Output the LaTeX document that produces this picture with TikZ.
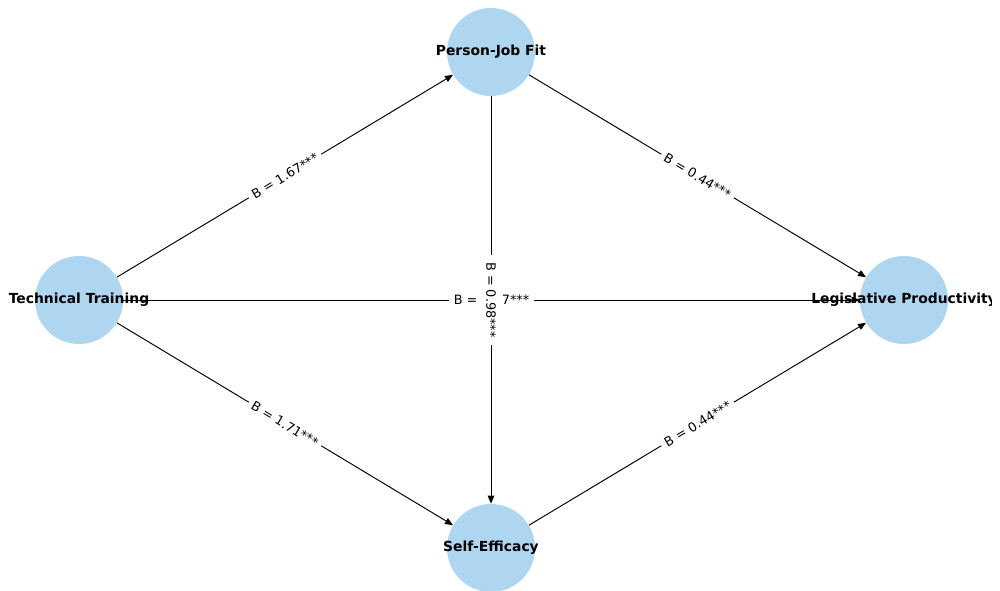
\documentclass[tikz,border=0pt]{standalone}
\usepackage{fontspec}
\setmainfont{DejaVu Sans}
\usetikzlibrary{positioning}
\usetikzlibrary{arrows.meta}
\definecolor{nodeblue}{RGB}{174,214,241}
\tikzset{>={Triangle[length=1.6mm,width=1.3mm]}}
\tikzstyle{vertex} = [circle, fill=nodeblue, draw=none, minimum size=1.76cm, inner sep=0pt]
\tikzstyle{varname} = [font=\fontsize{7.9}{9}\selectfont\bfseries, inner sep=0pt]
\tikzstyle{coef} = [fill=white, font=\fontsize{7.3}{9}\selectfont, inner sep=2.5pt]
\tikzstyle{link} = [->, draw=black, line width=0.55pt]

\begin{document}
\begin{tikzpicture}[x=0.02cm, y=-0.02cm]
\useasboundingbox (0, 0) rectangle (1000, 591);
\clip (0, 0) rectangle (991, 591);
\node [vertex] (TT) at (79, 300) {};
\node [vertex] (PJ) at (491, 52) {};
\node [vertex] (SE) at (491, 548) {};
\node [vertex] (LP) at (904, 300) {};

\draw [link] (TT) to node [coef, sloped] {B = 1.67***} (PJ);
\draw [link] (TT) to node [coef, sloped] {B = 1.71***} (SE);
\draw [link] (TT) to node [coef] {B = 0.37***} (LP);
\draw [link] (PJ) to node [coef, sloped] {B = 0.44***} (LP);
\draw [link] (SE) to node [coef, sloped] {B = 0.44***} (LP);
\draw [link] (PJ) to node [coef, rotate=-90, inner sep=4pt] {B = 0.98***} (SE);

\node [varname] (TTname) at (TT) {Technical Training};
\node [varname] (PJname) at (PJ) {Person-Job Fit};
\node [varname] (SEname) at (SE) {Self-Efficacy};
\node [varname] (LPname) at (LP) {Legislative Productivity};
\end{tikzpicture}
\end{document}
